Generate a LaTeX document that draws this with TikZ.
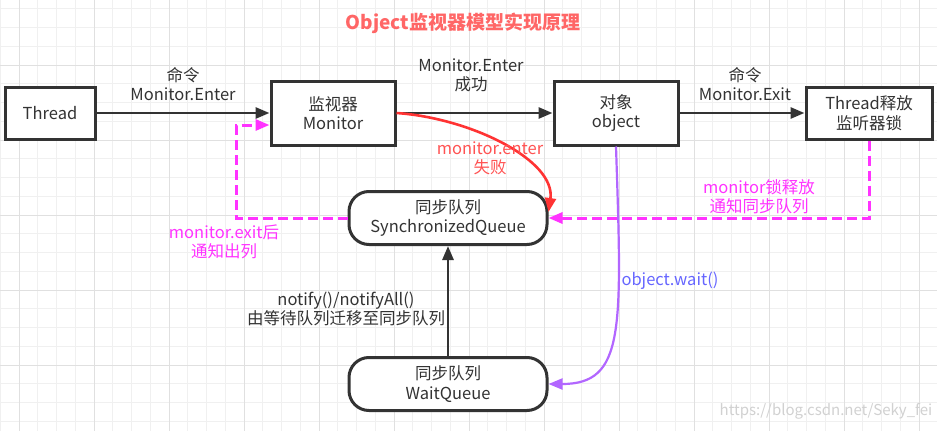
\documentclass[tikz,border=0pt]{standalone}
\usepackage{fontspec}
\setmainfont{Noto Sans CJK SC}
\usetikzlibrary{arrows.meta}
\definecolor{txtgray}{HTML}{333333}
\definecolor{titlered}{HTML}{FF6666}
\definecolor{failred}{HTML}{FF3333}
\definecolor{notemag}{HTML}{FF33FF}
\definecolor{waitviolet}{HTML}{B266FF}
\definecolor{waitblue}{HTML}{6666FF}
\begin{document}
\begin{tikzpicture}[
  x=1pt, y=-1pt,
  gridminor/.style={draw=black!6, line width=0.9pt},
  gridmajor/.style={draw=black!12, line width=1pt},
  box/.style={rectangle, draw=txtgray, line width=3pt, fill=white, minimum width=124pt,
    minimum height=64pt, align=center, text=txtgray, font={\fontsize{16.5}{19.5}\selectfont}},
  queue/.style={box, rounded corners=20pt, minimum width=198pt, minimum height=53pt},
  lbl/.style={align=center, text=txtgray, font={\fontsize{16.5}{19}\selectfont}},
  flow/.style={line width=2.8pt, draw=txtgray, -{Triangle[length=14pt,width=11pt]}},
  note/.style={line width=3pt, draw=notemag, dashed, dash pattern=on 10pt off 5pt,
    -{Triangle[length=14pt,width=11pt]}}
]
\useasboundingbox[fill=white] (0,0) rectangle (937,431);
% grid
\foreach \i in {0,...,50} \draw[gridminor] ({0.25+18.75*\i},0) -- ++(0,431);
\foreach \i in {0,...,23} \draw[gridminor] (0,{8.75+18.75*\i}) -- ++(937,0);
\foreach \i in {0,...,12} \draw[gridmajor] ({19+75*\i},0) -- ++(0,431);
\foreach \i in {0,...,5} \draw[gridmajor] (0,{-10+75*\i}) -- ++(937,0);

\node[font={\fontsize{19}{22}\selectfont\bfseries}, text=titlered] (title) at (463,23) {Object监视器模型实现原理};

\node[box, minimum width=90pt, minimum height=52pt] (thread) at (50,113) {Thread};
\node[box] (mon) at (333,113) {监视器\\Monitor};
\node[box] (obj) at (616,113) {对象\\object};
\node[box, minimum width=126pt, minimum height=52pt] (rel) at (869,113) {Thread释放\\监听器锁};
\node[queue] (sync) at (448,218) {同步队列\\SynchronizedQueue};
\node[queue] (wait) at (448,384) {同步队列\\WaitQueue};

\draw[flow] (thread) -- (mon);
\draw[flow] (mon) -- (obj);
\draw[flow] (obj) -- (rel);
\draw[flow] (wait) -- (sync);

\node[lbl] (l1) at (183,84) {命令\\Monitor.Enter};
\node[lbl] (l2) at (471,75) {Monitor.Enter\\成功};
\node[lbl] (l3) at (745,84) {命令\\Monitor.Exit};
\node[lbl] (l4) at (346,309) {notify()/notifyAll()\\由等待队列迁移至同步队列};

\draw[line width=2.6pt, draw=failred, -{Triangle[length=14pt,width=11pt]}]
  (mon.east) .. controls (470,118) and (556,160) .. ([yshift=6pt]sync.east);
\node[lbl, text=failred!85] (l5) at (490,158) {monitor.enter\\失败};

\draw[line width=2.2pt, draw=waitviolet, -{Triangle[length=14pt,width=11pt]}]
  (obj.south) .. controls (622,330) and (625,384) .. (wait.east);
\node[lbl, text=waitblue, anchor=west] (l6) at (618,281) {object.wait()};

\draw[note] (rel.south) |- (sync.east);
\node[lbl, text=notemag] (l7) at (759,197) {monitor锁释放\\通知同步队列};

\coordinate (back) at (236,125);
\draw[note] (sync.west) -| (back) -- ([yshift=-12pt]mon.west);
\node[lbl, text=notemag] (l8) at (224,242) {monitor.exit后\\通知出列};

\node[text=black!18, font={\fontsize{15}{18}\selectfont}] (mark) at (826,411) {https://blog.csdn.net/Seky\_fei};
\end{tikzpicture}
\end{document}
